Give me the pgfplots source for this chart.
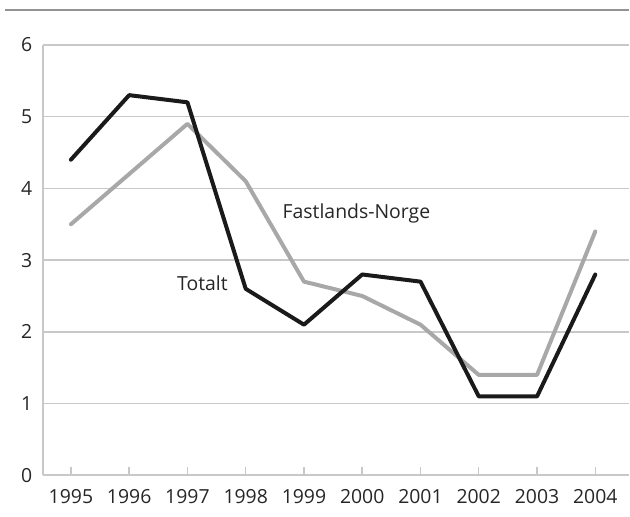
\documentclass[border=0pt]{standalone}
\usepackage{pgfplots}
\pgfplotsset{compat=1.18}
\usepackage{fontspec}
\setmainfont{Open Sans}
\definecolor{gridc}{HTML}{C8C8C8}
\definecolor{darkl}{HTML}{1A1A1A}
\definecolor{lightl}{HTML}{A8A8A8}
\begin{document}
\fontsize{19.5}{22}\selectfont
\begin{tikzpicture}
\begin{axis}[
  name=ax,
  at={(0,0)}, anchor=south west,
  scale only axis,
  width=587bp, height=431bp,
  xmin=1994.52, xmax=2004.58,
  ymin=0, ymax=6,
  xtick={1995,...,2004},
  ytick={0,...,6},
  xticklabel style={/pgf/number format/1000 sep={}, text=black!85},
  yticklabel style={text=black!85},
  /pgf/number format/assume math mode=true,
  axis x line*=bottom, axis y line*=left,
  axis line style={gridc, line width=1.8bp},
  ymajorgrids, grid style={gridc, line width=1.5bp},
  tick align=inside,
  xtick style={gridc, line width=1.5bp},
  major tick length=8bp,
  ytick style={draw=none},
  xticklabel shift=7bp,
  yticklabel style={xshift=-4bp},
  clip=false,
]
\addplot[lightl, line width=4bp, line join=round, line cap=round] coordinates {
(1995,3.5) (1996,4.2) (1997,4.9) (1998,4.1) (1999,2.7) (2000,2.5) (2001,2.1) (2002,1.4) (2003,1.4) (2004,3.4)};
\addplot[darkl, line width=4bp, line join=round, line cap=round] coordinates {
(1995,4.4) (1996,5.3) (1997,5.2) (1998,2.6) (1999,2.1) (2000,2.8) (2001,2.7) (2002,1.1) (2003,1.1) (2004,2.8)};
\node[anchor=west, text=black!85] at (axis cs:1998.52,3.65) {Fastlands-Norge};
\node[anchor=west, text=black!85] at (axis cs:1996.71,2.68) {Totalt};
\end{axis}
\path ([xshift=-43bp,yshift=-41bp]ax.south west) rectangle ([yshift=45bp]ax.north east);
\draw[gray!85, line width=1.5bp] ([xshift=-38bp,yshift=35bp]ax.north west) -- ([yshift=35bp]ax.north east);
\end{tikzpicture}
\end{document}
